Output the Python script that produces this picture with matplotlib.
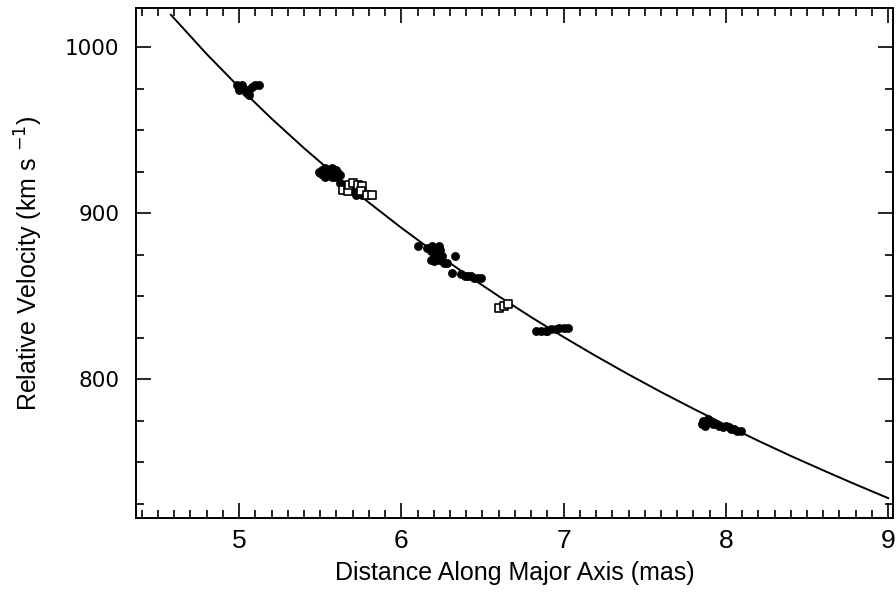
import matplotlib
matplotlib.use("Agg")
import matplotlib.pyplot as plt
from matplotlib.ticker import MultipleLocator

# Model curve
curve_x = [4.58, 4.8, 5.0, 5.2, 5.4, 5.6, 5.8, 6.0, 6.2, 6.4, 6.6, 6.8, 7.0,
           7.2, 7.4, 7.6, 7.8, 8.0, 8.2, 8.4, 8.6, 8.8, 9.0]
curve_v = [1019.4, 995.8, 975.8, 956.9, 939.1, 922.3, 906.3, 891.1, 876.7, 863.0,
           849.9, 837.3, 825.3, 813.8, 802.8, 792.2, 782.1, 772.3, 762.8, 753.7,
           745.0, 736.5, 728.3]

# Filled circles
filled_x = [4.99, 5.00, 5.01, 5.00, 5.02, 5.03, 5.04, 5.05, 5.06, 5.06, 5.08, 5.10, 5.12,
            5.50, 5.51, 5.52, 5.53, 5.54, 5.55, 5.56, 5.57, 5.58, 5.59, 5.60, 5.61, 5.53, 5.57, 5.49, 5.62,
            5.62, 5.65, 5.66, 5.69, 5.71, 5.72, 5.74, 5.76,
            6.10, 6.16, 6.18, 6.19, 6.20, 6.21, 6.22, 6.23, 6.24, 6.25, 6.18, 6.20, 6.23, 6.26, 6.28,
            6.33, 6.31, 6.37, 6.39, 6.41, 6.43, 6.45, 6.47, 6.49,
            6.83, 6.86, 6.89, 6.90, 6.92, 6.95, 6.97, 7.00, 7.03,
            7.85, 7.86, 7.87, 7.88, 7.89, 7.90, 7.92, 7.94, 7.96, 7.98, 8.00, 8.02, 8.03, 8.05, 8.07, 8.09]
filled_v = [977, 976, 975, 974, 977, 975, 973, 972, 971, 974, 976, 977, 977,
            924, 926, 923, 927, 925, 923, 926, 927, 924, 922, 926, 924, 922, 922, 925, 923,
            918, 916, 914, 914, 913, 911, 912, 911,
            880, 879, 877, 880, 875, 878, 876, 880, 878, 874, 872, 871, 872, 870, 870,
            874, 864, 863, 862, 862, 862, 861, 861, 861,
            829, 829, 829, 829, 830, 830, 831, 831, 831,
            773, 775, 772, 775, 776, 774, 773, 773, 772, 771, 772, 771, 770, 770, 769, 769]

# Open squares
open_x = [5.64, 5.67, 5.68, 5.70, 5.73, 5.76, 5.75, 5.79, 5.82, 6.60, 6.63, 6.66]
open_v = [914, 913, 917, 918, 917, 916, 913, 911, 911, 843, 844, 845]

xticks = [5, 6, 7, 8, 9]
yticks = [800, 900, 1000]

fig = plt.figure(figsize=(8.96, 6.02), dpi=100)
ax = fig.add_axes([0.1518, 0.1395, 0.9967 - 0.1518, 0.9859 - 0.1395])

ax.plot(curve_x, curve_v, color="black", lw=1.4, zorder=2)
ax.scatter(filled_x, filled_v, s=34, color="black", edgecolors="black", linewidths=0.5, zorder=3)
ax.scatter(open_x, open_v, s=28, marker="s", facecolors="white", edgecolors="black",
           linewidths=1.2, zorder=4)

ax.set_xlim(4.365, 9.03)
ax.set_ylim(716.3, 1023.2)

ax.xaxis.set_minor_locator(MultipleLocator(0.1))
ax.yaxis.set_minor_locator(MultipleLocator(25))
ax.set_xticks(xticks)
ax.set_yticks(yticks)

ax.tick_params(which="both", direction="in", top=True, right=True, width=1.2, color="black")
ax.tick_params(which="major", length=11)
ax.tick_params(which="minor", length=6)
ax.tick_params(axis="x", which="major", pad=8)
ax.tick_params(axis="y", which="major", pad=12)

for lab in ax.get_xticklabels():
    lab.set_family(["Liberation Sans Narrow", "Liberation Sans"])
    lab.set_fontsize(19)
for lab in ax.get_yticklabels():
    lab.set_family(["DejaVu Sans"])
    lab.set_fontsize(15.5)

for sp in ax.spines.values():
    sp.set_linewidth(1.4)

ax.set_xlabel("Distance Along Major Axis (mas)", family=["Liberation Sans", "DejaVu Sans"],
              fontsize=18, labelpad=6)
ax.set_ylabel(r"Relative Velocity (km s $^{-1}$)", family=["Liberation Sans", "DejaVu Sans"],
              fontsize=18, labelpad=14)

fig.savefig("out.png", dpi=100, facecolor="white")
